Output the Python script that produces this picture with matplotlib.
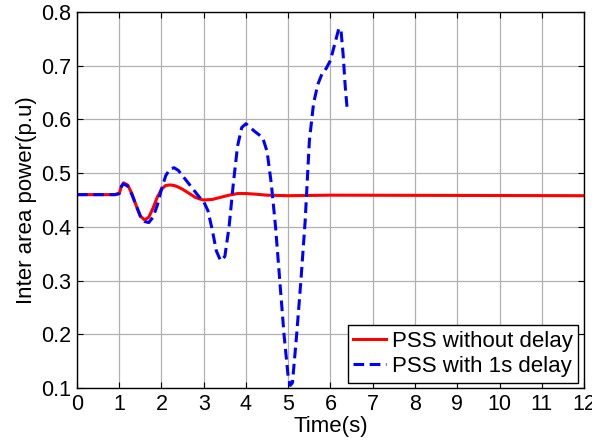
import matplotlib.pyplot as plt

plt.rcParams['font.family'] = ['Liberation Sans', 'DejaVu Sans']

# PSS without delay
red_t = [0, 0.9, 1.0, 1.05, 1.1, 1.2, 1.3, 1.4, 1.5, 1.6, 1.7, 1.8, 1.9, 2.0,
         2.1, 2.2, 2.3, 2.4, 2.5, 2.6, 2.7, 2.8, 2.9, 3.0, 3.2, 3.4, 3.6, 3.8,
         4.0, 4.2, 4.5, 5.0, 6.0, 12.0]
red_p = [0.46, 0.46, 0.462, 0.475, 0.482, 0.478, 0.462, 0.44, 0.42, 0.413,
         0.418, 0.435, 0.455, 0.47, 0.477, 0.478, 0.477, 0.474, 0.47, 0.465,
         0.46, 0.455, 0.452, 0.45, 0.451, 0.455, 0.459, 0.462, 0.462, 0.461,
         0.459, 0.458, 0.459, 0.458]

# PSS with 1s delay
blue_t = [0, 0.9, 1.0, 1.05, 1.1, 1.2, 1.3, 1.4, 1.5, 1.6, 1.7, 1.8, 1.9, 2.0,
          2.1, 2.2, 2.3, 2.4, 2.5, 2.6, 2.7, 2.8, 2.9, 3.0, 3.1, 3.2, 3.3, 3.4,
          3.5, 3.6, 3.7, 3.8, 3.9, 4.0, 4.1, 4.2, 4.3, 4.4, 4.5, 4.6, 4.7, 4.8,
          4.9, 5.0, 5.05, 5.1, 5.2, 5.3, 5.4, 5.5, 5.6, 5.7, 5.8, 5.9, 6.0,
          6.1, 6.2, 6.25, 6.3, 6.35, 6.4]
blue_p = [0.46, 0.46, 0.462, 0.475, 0.48, 0.476, 0.46, 0.44, 0.42, 0.41,
          0.408, 0.418, 0.44, 0.47, 0.495, 0.508, 0.51, 0.505, 0.495, 0.485,
          0.475, 0.465, 0.455, 0.447, 0.43, 0.395, 0.355, 0.337, 0.345, 0.40,
          0.48, 0.55, 0.585, 0.592, 0.585, 0.578, 0.572, 0.565, 0.54, 0.48,
          0.40, 0.30, 0.20, 0.12, 0.105, 0.11, 0.20, 0.30, 0.41, 0.56, 0.63,
          0.665, 0.685, 0.695, 0.71, 0.74, 0.77, 0.765, 0.72, 0.66, 0.615]

fig = plt.figure(figsize=(5.92, 4.42), dpi=100)
ax = fig.add_axes([0.130, 0.122, 0.8565, 0.851])

ax.plot(red_t, red_p, color='#ff0000', lw=2.2, label='PSS without delay')
ax.plot(blue_t, blue_p, color='#0000ff', lw=2.2, ls=(0, (3.5, 1.8)),
        label='PSS with 1s delay')

ax.set_xlim(0, 12)
ax.set_ylim(0.1, 0.8)
ax.set_xticks(range(0, 13))
ax.set_yticks([0.1, 0.2, 0.3, 0.4, 0.5, 0.6, 0.7, 0.8])
ax.set_yticklabels(['0.1', '0.2', '0.3', '0.4', '0.5', '0.6', '0.7', '0.8'])
ax.tick_params(direction='in', top=True, right=True, labelsize=15.5, length=4,
               pad=4)
ax.grid(True, color='#b0b0b0', lw=0.9)
for s in ax.spines.values():
    s.set_linewidth(1.0)

ax.set_xlabel('Time(s)', fontsize=16, labelpad=1)
ax.set_ylabel('Inter area power(p.u)', fontsize=16, labelpad=3)

leg = ax.legend(loc='lower right', fontsize=16, fancybox=False,
                edgecolor='black', framealpha=1, handlelength=1.5,
                handletextpad=0.25, borderpad=0.25, labelspacing=0.2,
                borderaxespad=0.25)
leg.get_frame().set_linewidth(1.0)

fig.savefig('out.png', dpi=100)
